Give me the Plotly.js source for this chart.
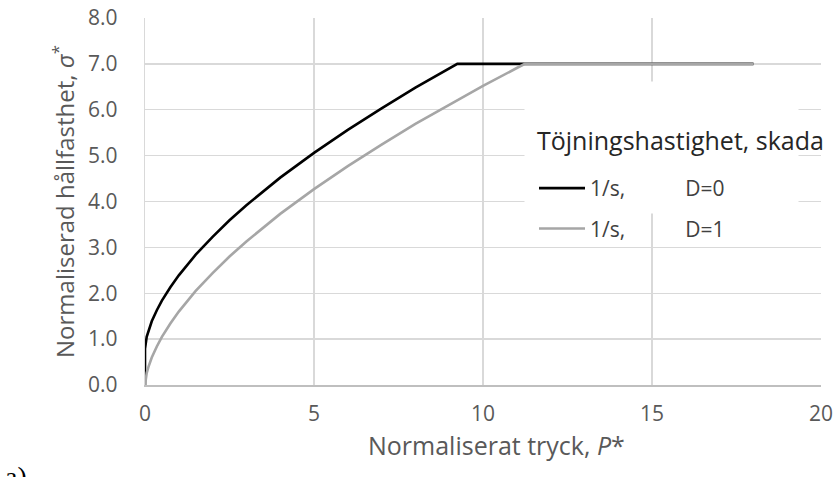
<!DOCTYPE html>
<html>
<head>
<meta charset="utf-8">
<script src="https://cdn.plot.ly/plotly-3.0.1.min.js"></script>
<style>
html,body{margin:0;padding:0;background:#fff;}
#chart{width:839px;height:477px;}
</style>
</head>
<body>
<div id="chart"></div>
<script>
// Normalized pressure P* and strength sigma*
var pD0 = [0, 0, 0.05, 0.1, 0.2, 0.35, 0.5, 0.75, 1, 1.5, 2, 2.5, 3, 4, 5, 6, 7, 8, 9, 9.24, 18];
var sD0 = [0, 0.79, 1.05, 1.18, 1.39, 1.63, 1.84, 2.13, 2.39, 2.84, 3.23, 3.59, 3.92, 4.52, 5.06, 5.56, 6.03, 6.48, 6.90, 7.0, 7.0];
var pD1 = [0, 0.02, 0.05, 0.1, 0.2, 0.35, 0.5, 0.75, 1, 1.5, 2, 2.5, 3, 4, 5, 6, 7, 8, 9, 10, 11, 11.24, 18];
var sD1 = [0, 0.15, 0.26, 0.39, 0.60, 0.84, 1.05, 1.34, 1.60, 2.05, 2.44, 2.80, 3.13, 3.73, 4.27, 4.77, 5.24, 5.69, 6.11, 6.52, 6.91, 7.0, 7.0];
var NB = "\u00a0\u00a0\u00a0\u00a0\u00a0\u00a0\u00a0\u00a0\u00a0\u00a0\u00a0";
var seriesNames = ["1/s," + NB + "D=0", "1/s," + NB + "D=1"];
var legendTitle = "Töjningshastighet, skada";
var xTitle = "Normaliserat tryck, <i>P</i>*";
var yTitle = "Normaliserad hållfasthet, <i>σ</i><sup>*</sup>";
var xTicks = [0, 5, 10, 15, 20];
var yTicks = [0, 1, 2, 3, 4, 5, 6, 7, 8];
var yTickText = ["0.0", "1.0", "2.0", "3.0", "4.0", "5.0", "6.0", "7.0", "8.0"];

var FONT = "Open Sans, Noto Sans, sans-serif";

var traces = [
  {x: pD0, y: sD0, type: "scatter", mode: "lines", name: seriesNames[0], legendgroup: "a",
   line: {color: "#000000", width: 2.6}},
  {x: pD1, y: sD1, type: "scatter", mode: "lines", name: seriesNames[1], legendgroup: "b",
   line: {color: "#a6a6a6", width: 2.6}}
];

// pixel helpers for paper coordinates (plot area 145..821 x, 18..385 y)
function px(x) { return (x - 145) / 676; }
function py(y) { return (385 - y) / 367; }

var layout = {
  width: 839, height: 477,
  margin: {l: 145, r: 18, t: 18, b: 92},
  paper_bgcolor: "#ffffff", plot_bgcolor: "#ffffff",
  font: {family: FONT, size: 22, color: "#595959"},
  showlegend: true,
  xaxis: {
    range: [0, 20], tickvals: xTicks, ticktext: xTicks.map(String),
    showgrid: true, gridcolor: "#d9d9d9", gridwidth: 1.3,
    showline: true, linecolor: "#bfbfbf", linewidth: 1.5,
    zeroline: false, ticks: "", ticklabelstandoff: 9,
    tickfont: {family: FONT, size: 21, color: "#595959"}
  },
  yaxis: {
    range: [0, 8], tickvals: yTicks, ticktext: yTickText,
    showgrid: true, gridcolor: "#d9d9d9", gridwidth: 1.3,
    showline: true, linecolor: "#d9d9d9", linewidth: 1.3,
    zeroline: false, ticks: "", ticklabelstandoff: 22,
    tickfont: {family: FONT, size: 21, color: "#595959"},
    title: {text: yTitle, font: {family: FONT, size: 24, color: "#595959"}, standoff: 6}
  },
  legend: {
    x: px(534), y: py(168), xanchor: "left", yanchor: "top",
    bgcolor: "rgba(255,255,255,0)", borderwidth: 0,
    traceorder: "grouped", tracegroupgap: 10, itemwidth: 46,
    font: {family: FONT, size: 21, color: "#404040"}
  },
  shapes: [
    {type: "rect", xref: "paper", yref: "paper", layer: "above",
     x0: px(525), x1: px(798), y0: py(213), y1: py(82),
     fillcolor: "#ffffff", opacity: 1, line: {color: "#ffffff", width: 1}}
  ],
  annotations: [
    {text: legendTitle, xref: "paper", yref: "paper", x: px(535), y: py(140), xanchor: "left", yanchor: "middle",
     showarrow: false, font: {family: FONT, size: 25, color: "#262626"}},
    {text: xTitle, xref: "paper", yref: "paper", x: px(496), y: py(445), xanchor: "center", yanchor: "middle",
     showarrow: false, font: {family: FONT, size: 25, color: "#595959"}},
    {text: "a)", xref: "paper", yref: "paper", x: px(3), y: py(459), xanchor: "left", yanchor: "top",
     showarrow: false, font: {family: "Liberation Serif, serif", size: 28, color: "#000000"}}
  ]
};

Plotly.newPlot("chart", traces, layout, {staticPlot: true, displayModeBar: false});
</script>
</body>
</html>
